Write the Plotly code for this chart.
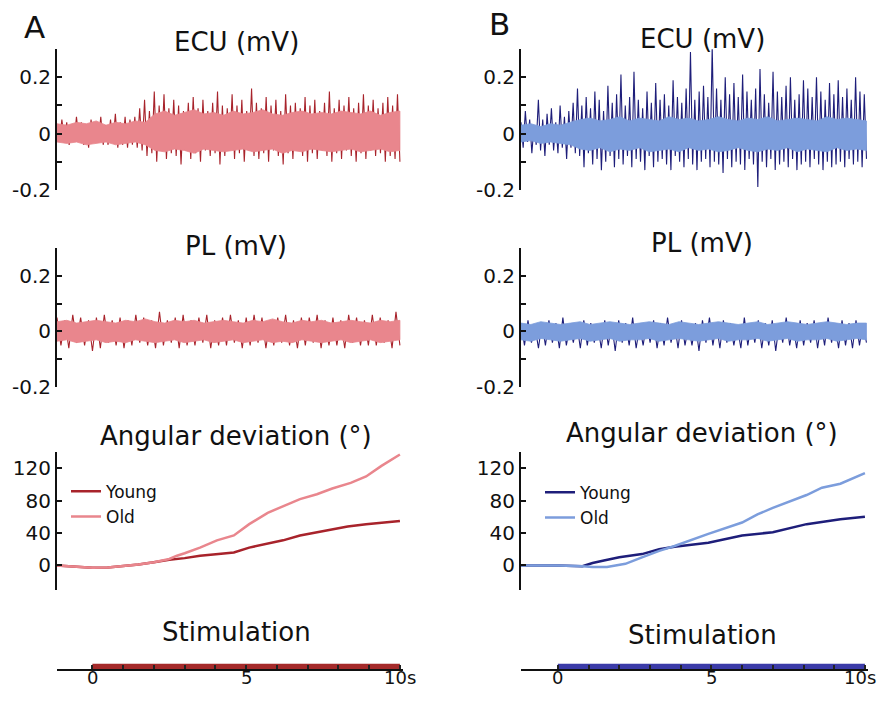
import numpy as np
import plotly.graph_objects as go

# reference frame (pixels of the 886x705 reference picture)
RW, RH = 886, 705
# the page keeps the browser's default 8 px body margin; the figure is sized so that
# margin + figure + margin fills the 886x705 window exactly (no overflow, no scaling)
OFF = 8
W, H = RW - 2 * OFF, RH - 2 * OFF

# ---------------- data ----------------
# colours
A_YOUNG, A_OLD, A_STIM = "#a8232b", "#e9868d", "#a52a2a"
B_YOUNG, B_OLD, B_STIM = "#1e1e7a", "#7c9ddc", "#3b3ba8"

# time windows (s)
a_t0, a_t1 = -1.15, 10.0
b_t0, b_t1 = -1.2, 10.05
stim_start, stim_end = 0, 10

# EMG, panel A (mV)
ecu_a_young = [0.03,-0.03,0.05,-0.02,0.04,-0.04,0.03,-0.03,0.06,-0.02,0.04,-0.04,0.03,-0.05,0.05,-0.03,0.04,-0.03,0.06,-0.04,
               0.03,-0.04,0.05,-0.03,0.07,-0.05,0.04,-0.04,0.06,-0.05,0.05,-0.04,0.06,-0.05,
               0.09,-0.06,0.12,-0.08,0.08,-0.07,0.15,-0.10,0.10,-0.06,0.14,-0.09,0.09,-0.07,0.12,-0.08,0.10,-0.11,0.08,-0.06,
               0.11,-0.09,0.13,-0.07,0.09,-0.10,0.12,-0.06,0.08,-0.08,0.11,-0.07,0.15,-0.11,0.10,-0.08,0.09,-0.06,0.14,-0.09,
               0.10,-0.07,0.12,-0.10,0.08,-0.06,0.16,-0.08,0.11,-0.09,0.09,-0.07,0.13,-0.10,0.10,-0.06,0.12,-0.08,0.08,-0.11,
               0.14,-0.07,0.10,-0.09,0.11,-0.06,0.09,-0.08,0.13,-0.10,0.10,-0.07,0.12,-0.09,0.08,-0.06,0.11,-0.08,0.15,-0.10,
               0.09,-0.07,0.12,-0.09,0.10,-0.06,0.13,-0.08,0.09,-0.10,0.11,-0.07,0.14,-0.09,0.10,-0.06,0.12,-0.08,0.09,-0.07,
               0.11,-0.10,0.13,-0.08,0.10,-0.09,0.14,-0.10]
ecu_a_old_hi = [0.035,0.03,0.04,0.035,0.045,0.03,0.04,0.035,0.045,0.04,
                0.07,0.08,0.065,0.075,0.085,0.07,0.075,0.065,0.08,0.07,0.075,0.085,0.07,0.065,0.075,0.08,0.07,0.075,0.07,0.08,0.075,0.07,0.08,0.065,0.075,0.08]
ecu_a_old_lo = [-0.03,-0.035,-0.03,-0.04,-0.035,-0.03,-0.04,-0.035,-0.03,-0.04,
                -0.06,-0.065,-0.055,-0.06,-0.07,-0.055,-0.06,-0.065,-0.06,-0.055,-0.065,-0.06,-0.055,-0.07,-0.06,-0.065,-0.055,-0.06,-0.065,-0.06,-0.055,-0.065,-0.06,-0.055,-0.065,-0.06]
pl_a_young = [0.05,-0.05,0.04,-0.06,0.06,-0.04,0.05,-0.05,0.04,-0.07,0.05,-0.06,0.06,-0.04,0.04,-0.05,0.05,-0.06,0.04,-0.05,0.06,-0.04,
              0.05,-0.05,0.04,-0.06,0.07,-0.05,0.04,-0.04,0.05,-0.06,0.06,-0.05,0.04,-0.05,0.05,-0.04,0.06,-0.06,0.04,-0.05,0.05,-0.05,
              0.06,-0.04,0.04,-0.06,0.05,-0.05,0.06,-0.04,0.05,-0.06,0.04,-0.05,0.05,-0.04,0.06,-0.05,0.04,-0.06,0.05,-0.05,0.05,-0.04,
              0.06,-0.06,0.04,-0.05,0.05,-0.05,0.04,-0.06,0.06,-0.04,0.05,-0.05,0.04,-0.05,0.06,-0.05,0.05,-0.04,0.04,-0.06,0.07,-0.05]
pl_a_old_hi = [0.035,0.04,0.03,0.035,0.04,0.035,0.03,0.04,0.035,0.045,0.035,0.03,0.04,0.035,0.04,0.03,0.035,0.04,
               0.035,0.03,0.04,0.035,0.045,0.035,0.03,0.04,0.035,0.04,0.03,0.035,0.04,0.035,0.03,0.04,0.035,0.04]
pl_a_old_lo = [-0.035,-0.03,-0.04,-0.035,-0.03,-0.04,-0.035,-0.04,-0.03,-0.035,-0.04,-0.035,-0.03,-0.04,-0.035,-0.03,-0.04,-0.035,
               -0.03,-0.04,-0.035,-0.03,-0.04,-0.035,-0.04,-0.03,-0.035,-0.04,-0.035,-0.03,-0.04,-0.035,-0.03,-0.04,-0.035,-0.03]

# EMG, panel B (mV)
ecu_b_young = [0.04,-0.05,0.08,-0.03,0.05,-0.07,0.03,-0.04,0.12,-0.06,0.05,-0.08,0.07,-0.04,0.09,-0.06,0.04,-0.07,0.10,-0.05,
               0.06,-0.09,0.08,-0.05,0.11,-0.07,
               0.16,-0.08,0.10,-0.12,0.13,-0.07,0.09,-0.11,0.15,-0.09,0.12,-0.13,0.08,-0.10,0.17,-0.08,0.11,-0.12,0.14,-0.09,
               0.21,-0.11,0.10,-0.08,0.13,-0.12,0.22,-0.09,0.12,-0.10,0.09,-0.13,0.15,-0.08,0.11,-0.12,0.18,-0.10,0.12,-0.09,
               0.14,-0.11,0.10,-0.13,0.19,-0.08,0.13,-0.10,0.11,-0.12,0.16,-0.09,0.29,-0.11,0.12,-0.13,0.15,-0.10,0.17,-0.09,
               0.13,-0.12,0.31,-0.10,0.16,-0.11,0.12,-0.14,0.20,-0.09,0.14,-0.12,0.18,-0.10,0.13,-0.11,0.21,-0.13,0.15,-0.09,
               0.12,-0.11,0.16,-0.19,0.23,-0.10,0.14,-0.12,0.11,-0.09,0.22,-0.13,0.15,-0.11,0.13,-0.10,0.17,-0.12,0.20,-0.09,
               0.12,-0.13,0.14,-0.11,0.19,-0.10,0.16,-0.12,0.13,-0.09,0.20,-0.11,0.15,-0.13,0.12,-0.10,0.18,-0.12,0.14,-0.11,
               0.19,-0.10,0.13,-0.12,0.16,-0.09,0.12,-0.11,0.20,-0.10,0.15,-0.12,0.14,-0.09]
ecu_b_old_hi = [0.03,0.035,0.025,0.035,0.03,0.04,
                0.05,0.055,0.045,0.05,0.06,0.045,0.055,0.05,0.045,0.06,0.05,0.055,0.045,0.05,0.06,0.05,0.045,0.055,0.05,0.06,0.045,0.05,0.055,0.05,0.045,0.06,0.05,0.055,0.05,0.045]
ecu_b_old_lo = [-0.03,-0.025,-0.035,-0.03,-0.035,-0.04,
                -0.055,-0.06,-0.05,-0.065,-0.055,-0.06,-0.05,-0.065,-0.06,-0.055,-0.065,-0.05,-0.06,-0.055,-0.065,-0.06,-0.05,-0.06,-0.065,-0.055,-0.06,-0.05,-0.065,-0.055,-0.06,-0.065,-0.05,-0.06,-0.055,-0.06]
pl_b_young = [0.03,-0.05,0.04,-0.04,0.02,-0.06,0.03,-0.05,0.04,-0.04,0.03,-0.06,0.05,-0.05,0.02,-0.04,0.03,-0.06,0.04,-0.05,
              0.03,-0.04,0.02,-0.06,0.04,-0.05,0.03,-0.07,0.04,-0.04,0.03,-0.05,0.05,-0.06,0.02,-0.05,0.03,-0.04,0.04,-0.06,
              0.03,-0.05,0.05,-0.04,0.03,-0.06,0.04,-0.05,0.02,-0.05,0.03,-0.07,0.04,-0.04,0.05,-0.05,0.03,-0.06,0.04,-0.04,
              0.03,-0.05,0.02,-0.06,0.05,-0.05,0.03,-0.04,0.04,-0.06,0.03,-0.05,0.04,-0.07,0.03,-0.04,0.05,-0.05,0.02,-0.06,
              0.04,-0.05,0.03,-0.04,0.04,-0.06,0.03,-0.05,0.05,-0.04,0.03,-0.06,0.04,-0.05,0.03,-0.06,0.04,-0.05,0.03,-0.04]
pl_b_old_hi = [0.03,0.025,0.035,0.03,0.025,0.03,0.035,0.025,0.03,0.035,0.03,0.025,0.03,0.035,0.03,0.025,0.035,0.03,
               0.025,0.03,0.035,0.03,0.025,0.03,0.035,0.025,0.03,0.035,0.03,0.025,0.03,0.035,0.03,0.025,0.03,0.03]
pl_b_old_lo = [-0.03,-0.035,-0.025,-0.03,-0.035,-0.03,-0.025,-0.035,-0.03,-0.025,-0.035,-0.03,-0.03,-0.025,-0.035,-0.03,-0.025,-0.03,
               -0.035,-0.03,-0.025,-0.035,-0.03,-0.03,-0.025,-0.035,-0.03,-0.025,-0.035,-0.03,-0.03,-0.025,-0.035,-0.03,-0.025,-0.03]

# Angular deviation (deg)
ang_a_young_t = [-1.15,-0.5,0,0.5,1,1.5,2,2.5,3,3.5,4.1,4.6,5.1,5.7,6.2,6.75,7.3,7.8,8.3,8.9,9.5,10]
ang_a_young_v = [0,-2,-3,-2.5,-1,1,4,7,9,12,14,16,22,27,31,37,41,45,48,51,53,55]
ang_a_old_t = [-1.15,-0.5,0,0.5,1,1.5,2,2.5,2.75,3.0,3.5,4.05,4.6,5.1,5.7,6.2,6.75,7.3,7.8,8.4,8.9,9.4,10]
ang_a_old_v = [0,-2,-3,-2.5,-1,1,4,8,12,15,22,31,37,51,65,73,82,88,95,102,110,123,137]
ang_b_young_t = [-1.2,0,0.8,1.13,1.5,2.0,2.74,3.3,3.8,4.9,6.0,7.0,8.1,9.2,10]
ang_b_young_v = [0,0,-1,3,6,10,14,20,23,28,37,41,51,57,60]
ang_b_old_t = [-1.2,0,0.8,1.13,1.6,2.2,2.74,3.3,3.8,4.9,6.0,6.5,7.0,8.1,8.6,9.2,10]
ang_b_old_v = [0,0,-1,-2,-2,2,10,18,24,39,53,63,71,87,96,101,114]

emg_ticks = [-0.2,-0.1,0,0.1,0.2,0.3]
emg_ticktext = ["-0.2","","0","","0.2",""]
ang_ticks = [0,40,80,120]
stim_ticks = list(range(0, 11))
stim_label_vals = [0, 5, 10]
stim_label_text = ["0", "5", "10s"]

FONT = "DejaVu Sans"

# ---------------- layout helpers (reference pixel -> paper fraction) ----------------
def px(x):
    return (x - OFF) / W

def py(y):
    return 1 - (y - OFF) / H

def xd(a, b):
    return [px(a), px(b)]

def yd(top, bottom):
    return [py(bottom), py(top)]

colA = (57, 403, [a_t0, a_t1 + 0.1])
colB = (521, 868, [b_t0, b_t1 + 0.05])
rows = {"ecu": (50, 193), "pl": (252, 394), "ang": (460, 600), "stim": (675, 681)}

fig = go.Figure()
layout = dict(width=W, height=H, margin=dict(l=0, r=0, t=0, b=0),
              paper_bgcolor="white", plot_bgcolor="white",
              font=dict(family=FONT, size=19, color="#111"), showlegend=True)

def add_axes(n, col, row, kind):
    x0, x1, xr = col
    top, bot = rows[row]
    xa = dict(domain=xd(x0, x1), range=xr, anchor=f"y{n}", showgrid=False, zeroline=False)
    ya = dict(domain=yd(top, bot), anchor=f"x{n}", showgrid=False, zeroline=False)
    if kind == "emg":
        xa.update(visible=False)
        ya.update(range=[-0.2, 0.3], tickvals=emg_ticks, ticktext=emg_ticktext, ticks="inside",
                  ticklen=5, tickwidth=1.5, tickcolor="#111", showline=True, linecolor="#111", linewidth=2,
                  tickfont=dict(size=20))
    elif kind == "ang":
        xa.update(visible=False)
        ya.update(range=[-30, 140], tickvals=ang_ticks, ticks="inside", ticklen=5, tickwidth=1.5,
                  tickcolor="#111", showline=True, linecolor="#111", linewidth=2, tickfont=dict(size=20))
    else:
        xa.update(visible=True, tickvals=stim_ticks, showticklabels=False, ticks="inside", ticklen=4,
                  tickwidth=1.5, tickcolor="#222", showline=True, linecolor="#111", linewidth=2)
        ya.update(visible=False, range=[0, 1])
    layout[f"xaxis{n}" if n > 1 else "xaxis"] = xa
    layout[f"yaxis{n}" if n > 1 else "yaxis"] = ya

for n, col, row, kind in [(1, colA, "ecu", "emg"), (2, colA, "pl", "emg"), (3, colA, "ang", "ang"), (4, colA, "stim", "stim"),
                          (5, colB, "ecu", "emg"), (6, colB, "pl", "emg"), (7, colB, "ang", "ang"), (8, colB, "stim", "stim")]:
    add_axes(n, col, row, kind)

def ax(n):
    return ("x" if n == 1 else f"x{n}"), ("y" if n == 1 else f"y{n}")

def add_emg(n, t0, t1, young, hi, lo, cy, co):
    xa, ya = ax(n)
    ty = np.linspace(t0, t1, len(young))
    fig.add_trace(go.Scatter(x=ty, y=young, mode="lines", line=dict(color=cy, width=1.1),
                             xaxis=xa, yaxis=ya, showlegend=False, hoverinfo="skip"))
    te = np.linspace(t0, t1, len(hi))
    fig.add_trace(go.Scatter(x=np.concatenate([te, te[::-1]]), y=np.concatenate([hi, lo[::-1]]),
                             mode="lines", fill="toself", fillcolor=co, line=dict(color=co, width=0.8),
                             xaxis=xa, yaxis=ya, showlegend=False, hoverinfo="skip"))

add_emg(1, a_t0, a_t1, ecu_a_young, ecu_a_old_hi, ecu_a_old_lo, A_YOUNG, A_OLD)
add_emg(2, a_t0, a_t1, pl_a_young, pl_a_old_hi, pl_a_old_lo, A_YOUNG, A_OLD)
add_emg(5, b_t0, b_t1, ecu_b_young, ecu_b_old_hi, ecu_b_old_lo, B_YOUNG, B_OLD)
add_emg(6, b_t0, b_t1, pl_b_young, pl_b_old_hi, pl_b_old_lo, B_YOUNG, B_OLD)

# angular
for n, lg, ty, vy, to, vo, cy, co in [(3, "legend", ang_a_young_t, ang_a_young_v, ang_a_old_t, ang_a_old_v, A_YOUNG, A_OLD),
                                       (7, "legend2", ang_b_young_t, ang_b_young_v, ang_b_old_t, ang_b_old_v, B_YOUNG, B_OLD)]:
    xa, ya = ax(n)
    fig.add_trace(go.Scatter(x=ty, y=vy, mode="lines", name="Young", line=dict(color=cy, width=2.5),
                             xaxis=xa, yaxis=ya, legend=lg))
    fig.add_trace(go.Scatter(x=to, y=vo, mode="lines", name="Old", line=dict(color=co, width=2.5),
                             xaxis=xa, yaxis=ya, legend=lg))

# stimulation bars
for n, c in [(4, A_STIM), (8, B_STIM)]:
    xa, ya = ax(n)
    fig.add_trace(go.Scatter(x=[stim_start, stim_end, stim_end, stim_start], y=[0, 0, 1, 1],
                             mode="lines", fill="toself", fillcolor=c, line=dict(color=c, width=0),
                             xaxis=xa, yaxis=ya, showlegend=False, hoverinfo="skip"))

leg_common = dict(bgcolor="rgba(0,0,0,0)", font=dict(size=17, family=FONT), xanchor="left", yanchor="top",
                  itemwidth=30, tracegroupgap=0)
layout["legend"] = dict(x=px(66), y=py(482), **leg_common)
layout["legend2"] = dict(x=px(540), y=py(483), **leg_common)

anns = []
def txt(s, x, y, size):
    anns.append(dict(text=s, x=px(x), y=py(y), xref="paper", yref="paper", showarrow=False,
                     xanchor="center", yanchor="middle", font=dict(size=size, family=FONT, color="#111")))

txt("A", 34, 27, 31)
txt("B", 499, 24, 31)
for cx, dy in [(236, 0), (702, -3)]:
    txt("ECU (mV)", cx, 43 + dy, 26)
    txt("PL (mV)", cx, 250 + dy, 26)
    txt("Angular deviation (°)", cx, 444 + dy, 26)
    txt("Stimulation", cx, 643 + (3 if dy else 0), 26)

# time labels under the stimulation axes
for xref in ["x4", "x8"]:
    for v, s in zip(stim_label_vals, stim_label_text):
        shift = -5 if (xref == "x8" and v == 10) else 0
        anns.append(dict(text=s, x=v, xref=xref, y=py(689), yref="paper", showarrow=False, xshift=shift,
                         xanchor="center", yanchor="middle", font=dict(size=18, family=FONT, color="#111")))
layout["annotations"] = anns

fig.update_layout(**layout)
fig.write_html("out.html", config={"displayModeBar": False})
